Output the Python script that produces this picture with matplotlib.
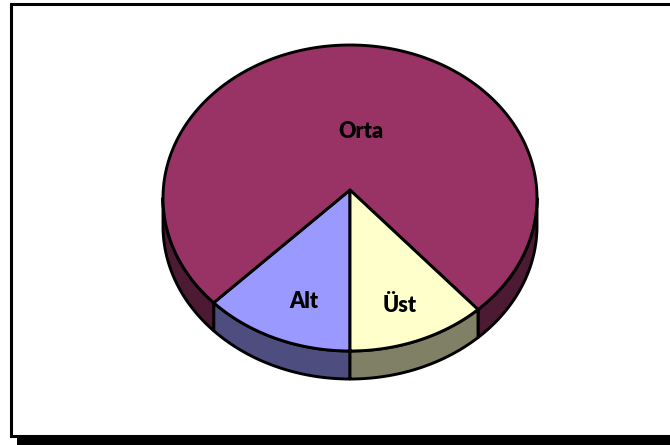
import numpy as np
import matplotlib
matplotlib.use("Agg")
import matplotlib.pyplot as plt
from matplotlib.patches import Polygon, Rectangle

# ---- data ----
categories = ["Alt", "Orta", "Üst"]
values = [13, 75, 12]
top_colors = ["#9999FF", "#993366", "#FFFFCC"]
side_colors = ["#4D4D80", "#4D1A33", "#808066"]

# ---- geometry (pixel space) ----
W, H = 670, 445
cx, cy = 350, 198          # ellipse centre of top face
apex = (350, 190)          # projected pie centre
rx, ry = 187, 153
depth = 28
start = 0.0                # degrees, measured from 6 o'clock, clockwise
label_xy = {"Alt": (304, 302), "Orta": (361, 132), "Üst": (400, 305)}

fig = plt.figure(figsize=(W / 100, H / 100), dpi=100)
ax = fig.add_axes([0, 0, 1, 1])
ax.set_xlim(0, W)
ax.set_ylim(H, 0)
ax.axis("off")

# chart frame + shadow
ax.add_patch(Rectangle((17, 436), 700, 9, facecolor="black", edgecolor="none", zorder=1))
ax.add_patch(Rectangle((11, 3.5), 700, 432.5, facecolor="white", edgecolor="black",
                       linewidth=2.2, zorder=2))


def arc(t0, t1, dy=0.0, n=200):
    t = np.radians(np.linspace(t0, t1, n))
    return np.column_stack([cx - rx * np.sin(t), cy + ry * np.cos(t) + dy])


fracs = np.array(values, dtype=float) / np.sum(values)
bounds = start + np.concatenate([[0], np.cumsum(fracs) * 360])

# side walls (front half only: t in [-90, 90])
for i in range(len(values)):
    a, b = bounds[i], bounds[i + 1]
    for lo, hi in ((0, 90), (270, 360), (-90, 0)):
        s, e = max(a, lo), min(b, hi)
        if e > s:
            top = arc(s, e)
            bot = arc(e, s, dy=depth)
            poly = np.vstack([top, bot])
            ax.add_patch(Polygon(poly, closed=True, facecolor=side_colors[i],
                                 edgecolor="black", linewidth=2.1, joinstyle="round",
                                 zorder=3))

# top faces
for i in range(len(values)):
    a, b = bounds[i], bounds[i + 1]
    pts = np.vstack([[apex], arc(a, b)])
    ax.add_patch(Polygon(pts, closed=True, facecolor=top_colors[i],
                         edgecolor="black", linewidth=2.1, joinstyle="round", zorder=4))

for name in categories:
    x, y = label_xy[name]
    ax.text(x, y, name, ha="center", va="center", fontsize=15.5, fontweight="heavy",
            family=["Lato", "DejaVu Sans"], color="black", zorder=5)

fig.savefig("out.png", dpi=100)
